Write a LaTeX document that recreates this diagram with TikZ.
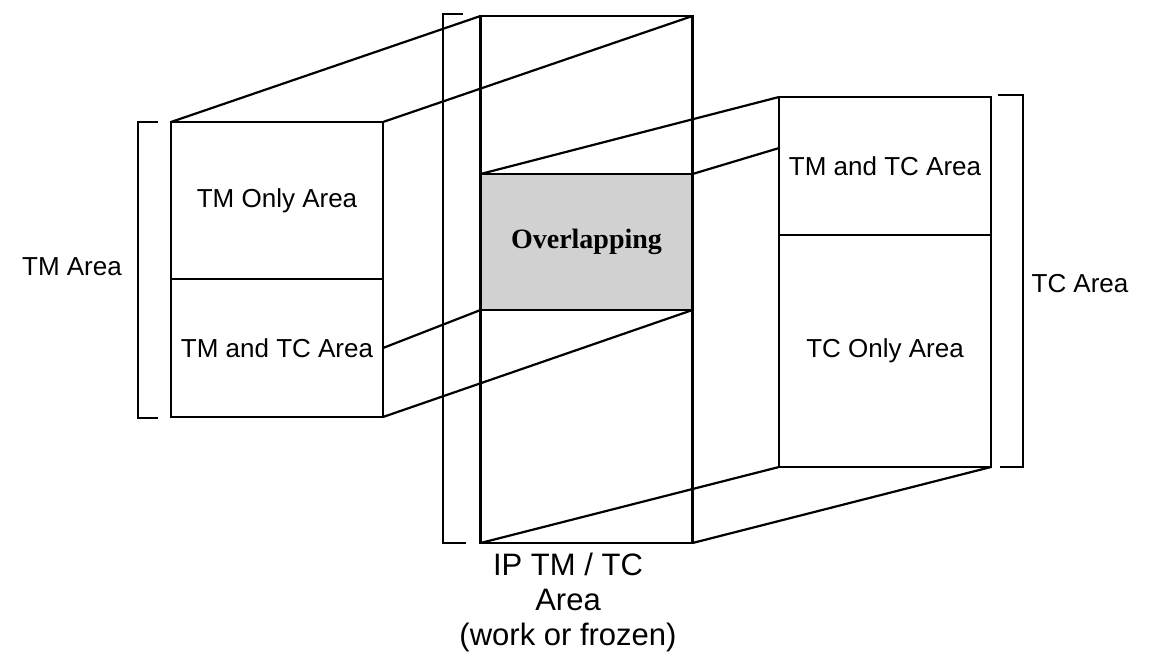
\documentclass[tikz,border=0pt]{standalone}
\usepackage{fontspec}
\setmainfont{Liberation Sans}
\newfontfamily\ovfont{Liberation Serif}
\usetikzlibrary{calc}
\usetikzlibrary{positioning}

\begin{document}
\begin{tikzpicture}[
	x=0.5pt, y=-0.5pt,
	b/.style = {rectangle, draw, line width=1.4pt, inner sep=0pt, outer sep=0pt, minimum width=106pt, font=\fontsize{13}{15}\selectfont},
	ov/.style = {b, fill=black!18, font=\ovfont\bfseries\fontsize{14}{16}\selectfont},
	lbl/.style = {font=\fontsize{13}{15}\selectfont},
	e/.style = {line width=1.1pt},
	br/.style = {line width=1.3pt}
	]
	
	\useasboundingbox (0,0) rectangle (1159,653);
	
	% === === Nodes === ===
	\node[b, minimum height=78.5pt]	(l1)	at	(277, 200.5)	{TM Only Area};
	\node[b, minimum height=69pt]	(l2)	at	(277, 348)		{TM and TC Area};
	
	\node[b, minimum height=79pt]	(m1)	at	(586.5, 95)		{};
	\node[ov, minimum height=68pt]	(ov)	at	(586.5, 242)	{Overlapping};
	\node[b, minimum height=116.5pt]	(m2)	at	(586.5, 426.5)	{};
	
	\node[b, minimum height=69pt]	(r1)	at	(885, 166)		{TM and TC Area};
	\node[b, minimum height=116pt]	(r2)	at	(885, 351)		{TC Only Area};
	
	\node[lbl]	(tmarea)	at	(72, 267)	{TM Area};
	\node[lbl]	(tcarea)	at	(1080, 284)	{TC Area};
	\node[align=center, font=\fontsize{15.5}{17.5}\selectfont]	(iparea)	at	(568, 602)	{IP TM / TC\\Area\\(work or frozen)};
	
	\coordinate	(r1a)	at	($(r1.north west)!0.37!(r1.south west)$);
	
	
	% === === Brackets === ===
	\draw[br]	(158, 122)	--	(138, 122)	--	(138, 418)	--	(158, 418);
	\draw[br]	(463, 14)	--	(443, 14)	--	(443, 543)	--	(466, 543);
	\draw[br]	(998, 95)	--	(1023, 95)	--	(1023, 467)	--	(1000, 467);
	
	
	% === === Lines === ===
	\draw[e]	(l1.north west)	--	(m1.north west);
	\draw[e]	(l1.north east)	--	(m1.north east);
	\draw[e]	(l2.east)		--	(ov.south west);
	\draw[e]	(l2.south east)	--	(ov.south east);
	
	\draw[e]	(ov.north west)	--	(r1.north west);
	\draw[e]	(ov.north east)	--	(r1a);
	\draw[e]	(m2.south west)	--	(r2.south west);
	\draw[e]	(m2.south east)	--	(r2.south east);
	
	
\end{tikzpicture}
\end{document}
